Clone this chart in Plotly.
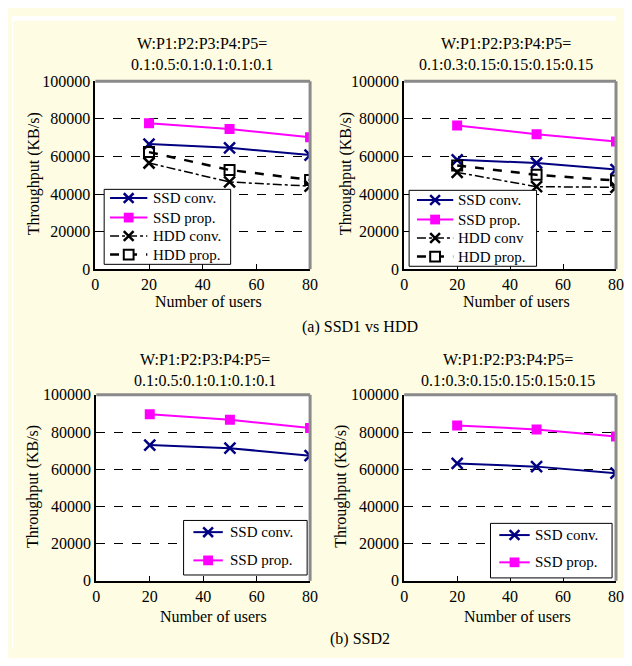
import plotly.graph_objects as go

FW, FH = 616, 650   # figure size; with the 8px body margin the page is 632x666
users = [20, 50, 80]

# (a) SSD1 vs HDD
a1_ssd_conv = [66600, 64600, 60700]
a1_ssd_prop = [77600, 74600, 70200]
a1_hdd_conv = [56500, 46400, 44200]
a1_hdd_prop = [62300, 52800, 47500]

a2_ssd_conv = [58200, 56500, 53000]
a2_ssd_prop = [76500, 71800, 68000]
a2_hdd_conv = [51500, 43900, 43600]
a2_hdd_prop = [55200, 50200, 47200]

# (b) SSD2
b1_ssd_conv = [73000, 71300, 67300]
b1_ssd_prop = [89600, 86600, 82100]
b2_ssd_conv = [63100, 61400, 57900]
b2_ssd_prop = [83500, 81400, 77600]

titles = ["W:P1:P2:P3:P4:P5=<br>0.1:0.5:0.1:0.1:0.1:0.1",
          "W:P1:P2:P3:P4:P5=<br>0.1:0.3:0.15:0.15:0.15:0.15",
          "W:P1:P2:P3:P4:P5=<br>0.1:0.5:0.1:0.1:0.1:0.1",
          "W:P1:P2:P3:P4:P5=<br>0.1:0.3:0.15:0.15:0.15:0.15"]
x_title = "Number of users"
y_title = "Throughput (KB/s)"
captions = ["(a) SSD1 vs HDD", "(b) SSD2"]
x_ticks = [0, 20, 40, 60, 80]
y_ticks = [0, 20000, 40000, 60000, 80000, 100000]
legend_a1 = ["SSD conv.", "SSD prop.", "HDD conv.", "HDD prop."]
legend_a2 = ["SSD conv.", "SSD prop.", "HDD conv", "HDD prop."]
legend_b = ["SSD conv.", "SSD prop."]

FONT = "Liberation Serif, Times New Roman, serif"
NAVY = "#000080"
MAG = "#FF00FF"
CREAM = "#FEFCE2"
OFF = 8  # page body margin

def px(x):
    return (x - OFF) / FW

def py(y):
    return 1 - (y - OFF) / FH

# plot boxes in page pixels: x0, x1, ytop, ybottom
boxes = [(93, 312, 75, 268), (408, 624, 75, 268), (94, 312, 397, 588), (408, 624, 397, 588)]

STYLES = {
    "SSD conv.": dict(color=NAVY, width=2, dash="solid", marker="x", mcolor=NAVY),
    "SSD prop.": dict(color=MAG, width=2, dash="solid", marker="sq", mcolor=MAG),
    "HDD conv.": dict(color="black", width=1.5, dash="dashdot", marker="x", mcolor="black"),
    "HDD conv": dict(color="black", width=1.5, dash="dashdot", marker="x", mcolor="black"),
    "HDD prop.": dict(color="black", width=2.5, dash="dash", marker="osq", mcolor="black"),
}

def trace(name, x, y, axn):
    s = STYLES[name]
    if s["marker"] == "x":
        mk = dict(symbol="x-thin", size=11, line=dict(color=s["mcolor"], width=2.5))
    elif s["marker"] == "sq":
        mk = dict(symbol="square", size=10, color=s["mcolor"])
    else:
        mk = dict(symbol="square-open", size=10, color="black", line=dict(color="black", width=2))
    return go.Scatter(x=x, y=y, xaxis="x" + axn, yaxis="y" + axn, mode="lines+markers",
                      name=name, showlegend=False,
                      line=dict(color=s["color"], width=s["width"], dash=s["dash"]), marker=mk)

fig = go.Figure()
for name, vals in zip(legend_a1, [a1_ssd_conv, a1_ssd_prop, a1_hdd_conv, a1_hdd_prop]):
    fig.add_trace(trace(name, users, vals, ""))
for name, vals in zip(legend_a2, [a2_ssd_conv, a2_ssd_prop, a2_hdd_conv, a2_hdd_prop]):
    fig.add_trace(trace(name, users, vals, "2"))
for name, vals in zip(legend_b, [b1_ssd_conv, b1_ssd_prop]):
    fig.add_trace(trace(name, users, vals, "3"))
for name, vals in zip(legend_b, [b2_ssd_conv, b2_ssd_prop]):
    fig.add_trace(trace(name, users, vals, "4"))

layout = dict(width=FW, height=FH, margin=dict(l=0, r=0, t=0, b=0),
              paper_bgcolor=CREAM, plot_bgcolor="white", showlegend=False,
              font=dict(family=FONT, size=16, color="black"))

shapes = [
    dict(type="rect", xref="paper", yref="paper", x0=0, x1=1, y0=py(13), y1=1,
         fillcolor="white", line=dict(width=0), layer="below"),
    dict(type="rect", xref="paper", yref="paper", x0=0, x1=px(9), y0=0, y1=1,
         fillcolor="white", line=dict(width=0), layer="below"),
]
annotations = []

for i, (x0, x1, yt, yb) in enumerate(boxes):
    n = "" if i == 0 else str(i + 1)
    layout["xaxis" + n] = dict(domain=[px(x0), px(x1)], range=[0, 80], anchor="y" + n,
                               tickvals=x_ticks, ticks="inside", ticklen=5, tickcolor="black",
                               showline=True, linecolor="black", linewidth=2,
                               showgrid=False, zeroline=False,
                               tickfont=dict(family=FONT, size=16, color="black"))
    layout["yaxis" + n] = dict(domain=[py(yb), py(yt)], range=[0, 100000], anchor="x" + n,
                               tickvals=y_ticks, tickformat="d", ticks="", showline=True,
                               linecolor="black", linewidth=2, showgrid=True, gridcolor="black",
                               gridwidth=1, griddash="dash", zeroline=False,
                               tickfont=dict(family=FONT, size=16, color="black"))
    shapes.append(dict(type="line", xref="x" + n + " domain", yref="y" + n + " domain",
                       x0=0, x1=1, y0=1, y1=1, line=dict(color="#8a8a8a", width=3), layer="above"))
    shapes.append(dict(type="line", xref="x" + n + " domain", yref="y" + n + " domain",
                       x0=1, x1=1, y0=0, y1=1, line=dict(color="#8a8a8a", width=3), layer="above"))

# legends drawn as boxes with key symbols (page pixel positions)
legend_specs = [
    (legend_a1, (102, 231, 186, 263), 108, 146, 150, [195, 215, 234, 253]),
    (legend_a2, (413, 543, 187, 265), 421, 458, 461, [197, 217, 236, 255]),
    (legend_b, (183, 309, 526, 582), 193, 223, 228, [538, 567]),
    (legend_b, (496, 620, 529, 585), 505, 536, 539, [541, 569]),
]
for names, (bx0, bx1, byt, byb), lx0, lx1, tx, ys in legend_specs:
    shapes.append(dict(type="rect", xref="paper", yref="paper", x0=px(bx0), x1=px(bx1),
                       y0=py(byb), y1=py(byt), fillcolor="white",
                       line=dict(color="black", width=1), layer="above"))
    for name, yc in zip(names, ys):
        s = STYLES[name]
        shapes.append(dict(type="line", xref="paper", yref="paper", x0=px(lx0), x1=px(lx1),
                           y0=py(yc), y1=py(yc),
                           line=dict(color=s["color"], width=s["width"], dash=s["dash"]),
                           layer="above"))
        mx = (lx0 + lx1) / 2
        r = 5
        if s["marker"] == "x":
            path = "M %f %f L %f %f M %f %f L %f %f" % (
                px(mx - r), py(yc - r), px(mx + r), py(yc + r),
                px(mx - r), py(yc + r), px(mx + r), py(yc - r))
            shapes.append(dict(type="path", xref="paper", yref="paper", path=path,
                               line=dict(color=s["mcolor"], width=2.5), layer="above"))
        elif s["marker"] == "sq":
            shapes.append(dict(type="rect", xref="paper", yref="paper",
                               x0=px(mx - r), x1=px(mx + r), y0=py(yc + r), y1=py(yc - r),
                               fillcolor=MAG, line=dict(width=0), layer="above"))
        else:
            shapes.append(dict(type="rect", xref="paper", yref="paper",
                               x0=px(mx - r), x1=px(mx + r), y0=py(yc + r), y1=py(yc - r),
                               fillcolor="white", line=dict(color="black", width=2),
                               layer="above"))
        annotations.append(dict(text=name, xref="paper", yref="paper", x=px(tx), y=py(yc),
                                xanchor="left", yanchor="middle", showarrow=False,
                                font=dict(family=FONT, size=15, color="black")))

title_pos = [(202, 47), (512, 47), (205, 372), (514, 372)]
for t, (cx, cy) in zip(titles, title_pos):
    annotations.append(dict(text=t, xref="paper", yref="paper", x=px(cx), y=py(cy),
                            xanchor="center", yanchor="middle", showarrow=False,
                            font=dict(family=FONT, size=16, color="black")))

xt_pos = [(208, 301), (523, 301), (213, 625), (524, 625)]
for cx, cy in xt_pos:
    annotations.append(dict(text=x_title, xref="paper", yref="paper", x=px(cx), y=py(cy),
                            xanchor="center", yanchor="middle", showarrow=False,
                            font=dict(family=FONT, size=16, color="black")))
yt_pos = [(30, 170), (348, 170), (30, 491), (344, 491)]
for cx, cy in yt_pos:
    annotations.append(dict(text=y_title, xref="paper", yref="paper", x=px(cx), y=py(cy),
                            xanchor="center", yanchor="middle", showarrow=False, textangle=-90,
                            font=dict(family=FONT, size=16, color="black")))

cap_pos = [(363, 327), (363, 648)]
for c, (cx, cy) in zip(captions, cap_pos):
    annotations.append(dict(text=c, xref="paper", yref="paper", x=px(cx), y=py(cy),
                            xanchor="center", yanchor="middle", showarrow=False,
                            font=dict(family=FONT, size=16, color="black")))

layout["shapes"] = shapes
layout["annotations"] = annotations
fig.update_layout(**layout)

fig.write_html("out.html")
